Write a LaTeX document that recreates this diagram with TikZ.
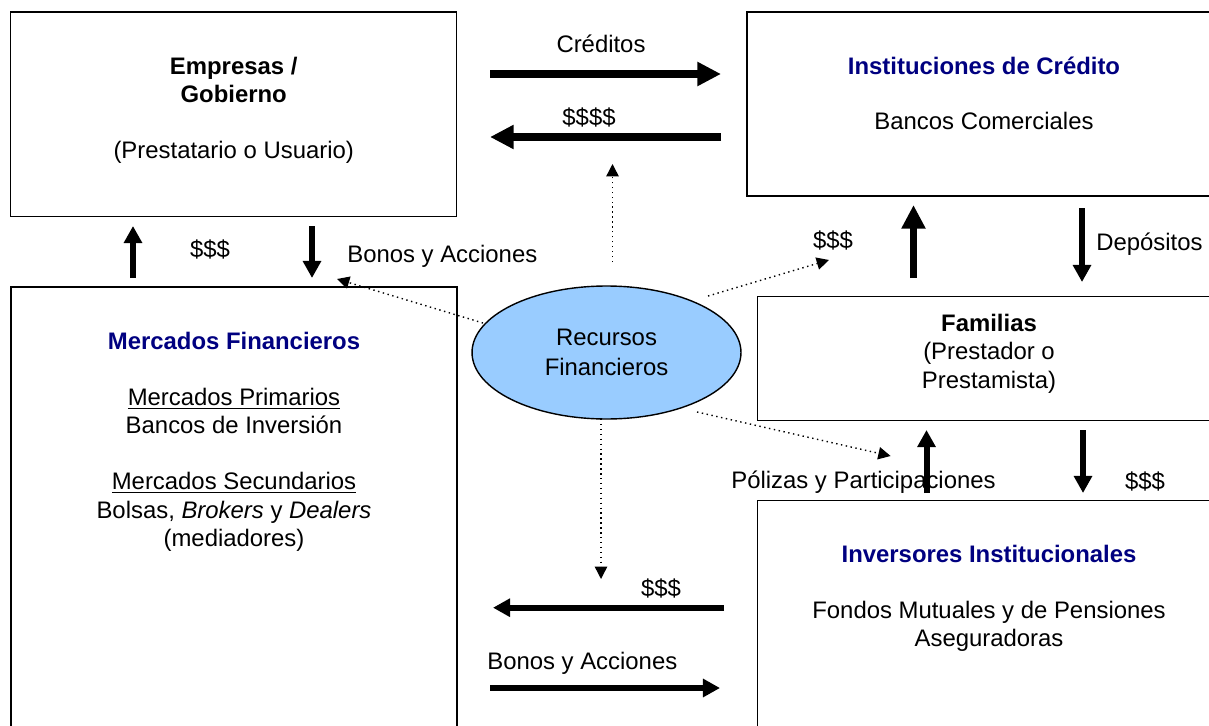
\documentclass[tikz,border=0pt]{standalone}
\usepackage{fontspec}
\setmainfont{Liberation Sans}
\usetikzlibrary{arrows.meta,shapes.geometric}
\definecolor{titleblue}{RGB}{0,0,128}
\definecolor{resblue}{RGB}{153,204,255}
\newcommand{\ttl}[1]{\textcolor{titleblue}{\textbf{#1}}}
\tikzset{
  txt/.style={align=center, inner sep=0pt, anchor=base,
    font=\fontsize{13.6}{16.2}\selectfont},
  lbl/.style={inner sep=0pt, anchor=base,
    font=\fontsize{13.6}{16.2}\selectfont},
  res/.style={ellipse, draw, line width=0.8pt, fill=resblue, inner sep=0pt,
    minimum width=5.38cm, minimum height=2.66cm, align=center,
    font=\fontsize{13.6}{17}\selectfont},
  bigarrow/.style={line width=4.5pt, -{Triangle[width=13pt,length=13.5pt]}},
  midarrow/.style={line width=3.4pt, -{Triangle[width=10pt,length=9.7pt]}},
  dotarrow/.style={line width=0.8pt, dotted, -{Triangle[width=7pt,length=7pt]}},
}
\begin{document}
\begin{tikzpicture}[x=0.02cm, y=-0.02cm]
    \useasboundingbox (0,0) rectangle (1209,726);
    \clip (0,0) rectangle (1209,726);
    %% boxes
    \draw[line width=0.85pt] (10.7,12) rectangle (456.7,216.7);
    \draw[line width=0.85pt] (747,12) rectangle (1240,196);
    \draw[line width=0.85pt] (11,287) rectangle (457,760);
    \draw[line width=0.85pt] (757.6,296.5) rectangle (1240,420.5);
    \draw[line width=0.85pt] (757.6,500.7) rectangle (1240,760);
    %% box texts (placed at the baseline of their last line)
    \node[txt] (emp) at (233.7,158.3) {\textbf{Empresas /}\\\textbf{Gobierno}\\[15.5pt](Prestatario o Usuario)};
    \node[txt] (inst) at (984,130) {\ttl{Instituciones de Crédito}\\[15.5pt]Bancos Comerciales};
    \node[txt] (merc) at (234,546.5) {\ttl{Mercados Financieros}\\[15.5pt]\underline{Mercados Primarios}\\Bancos de Inversión\\[15.5pt]\underline{Mercados Secundarios}\\Bolsas, \textit{Brokers} y \textit{Dealers}\\(mediadores)};
    \node[txt] (fam) at (989,388) {\textbf{Familias}\\(Prestador o\\Prestamista)};
    \node[txt] (inv) at (989,646.7) {\ttl{Inversores Institucionales}\\[15.5pt]Fondos Mutuales y de Pensiones\\Aseguradoras};
    %% resources
    \node[res] (rf) at (606.5,352.5) {Recursos\\Financieros};
    %% flow labels
    \node[lbl] (l-cred) at (601,53) {Créditos};
    \node[lbl] (l-pay1) at (589,125.5) {\$\$\$\$};
    \node[lbl] (l-pay2) at (210,257) {\$\$\$};
    \node[lbl, anchor=base west] (l-bon1) at (347,262) {Bonos y Acciones};
    \node[lbl] (l-pay3) at (833,248.5) {\$\$\$};
    \node[lbl, anchor=base west] (l-dep) at (1096,250.5) {Depósitos};
    \node[lbl, anchor=base west] (l-pol) at (731,488) {Pólizas y Participaciones};
    \node[lbl] (l-pay4) at (1145,489) {\$\$\$};
    \node[lbl] (l-pay5) at (661,596.5) {\$\$\$};
    \node[lbl, anchor=base west] (l-bon2) at (487,669) {Bonos y Acciones};
    %% arrow ends
    \coordinate (cr-a) at (490,74);     \coordinate (cr-b) at (721,74);
    \coordinate (pay-a) at (721,137);   \coordinate (pay-b) at (490,137);
    \coordinate (up2-a) at (913.5,278); \coordinate (up2-b) at (913.5,205);
    \coordinate (up1-a) at (133,278);   \coordinate (up1-b) at (133,226);
    \coordinate (dn1-a) at (312,226);   \coordinate (dn1-b) at (312,278);
    \coordinate (dep-a) at (1082,208);  \coordinate (dep-b) at (1082,282);
    \coordinate (up3-a) at (926.5,493); \coordinate (up3-b) at (926.5,430);
    \coordinate (dn3-a) at (1083,430);  \coordinate (dn3-b) at (1083,493);
    \coordinate (ret-a) at (724,607.7); \coordinate (ret-b) at (493,607.7);
    \coordinate (bon-a) at (490,688);   \coordinate (bon-b) at (720,688);
    \coordinate (do1-a) at (483,323);   \coordinate (do1-b) at (337,279);
    \coordinate (do2-a) at (612.5,262); \coordinate (do2-b) at (612.5,164);
    \coordinate (do3-a) at (708,296);   \coordinate (do3-b) at (829,260);
    \coordinate (do4-a) at (697,412);   \coordinate (do4-b) at (890.6,456);
    \coordinate (do5-a) at (601,419);   \coordinate (do5-b) at (601,579);
    %% flows
    \foreach \n in {cr,pay,up2}
        \draw[bigarrow] (\n-a) -- (\n-b);
    \foreach \n in {up1,dn1,dep,up3,dn3,ret,bon}
        \draw[midarrow] (\n-a) -- (\n-b);
    \foreach \n in {do1,do2,do3,do4,do5}
        \draw[dotarrow] (\n-a) -- (\n-b);
\end{tikzpicture}
\end{document}
